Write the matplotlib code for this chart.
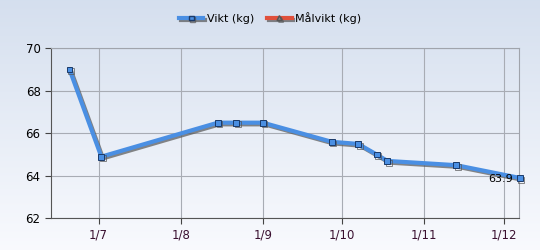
import numpy as np
import matplotlib
matplotlib.use("Agg")
import matplotlib.pyplot as plt
import matplotlib.patheffects as pe
from matplotlib.lines import Line2D
from datetime import datetime

dates = ["2011-06-20", "2011-07-02", "2011-08-15", "2011-08-22", "2011-09-01",
         "2011-09-27", "2011-10-07", "2011-10-14", "2011-10-18", "2011-11-13",
         "2011-12-07"]
vikt = [69.0, 64.9, 66.5, 66.5, 66.5, 65.6, 65.5, 65.0, 64.7, 64.5, 63.9]
tick_dates = ["2011-07-01", "2011-08-01", "2011-09-01", "2011-10-01",
              "2011-11-01", "2011-12-01"]
tick_labels = ["1/7", "1/8", "1/9", "1/10", "1/11", "1/12"]
y_ticks = [62, 64, 66, 68, 70]

x = [datetime.strptime(d, "%Y-%m-%d") for d in dates]
xt = [datetime.strptime(d, "%Y-%m-%d") for d in tick_dates]

fig = plt.figure(figsize=(5.4, 2.5), dpi=100)

# background gradient
bg = fig.add_axes([0, 0, 1, 1], zorder=-10)
grad = np.linspace(0, 1, 256).reshape(-1, 1)
top = np.array([0.835, 0.875, 0.935])
bot = np.array([0.975, 0.98, 0.995])
img = top + (bot - top) * grad[:, :, None]
bg.imshow(img, aspect="auto", extent=[0, 1, 0, 1])
bg.axis("off")

ax = fig.add_axes([51 / 540, 1 - 218.3 / 250, (519.3 - 51) / 540, (218.3 - 48.3) / 250])
ax.set_facecolor("none")

shadow = [pe.SimpleLineShadow(offset=(1.2, -1.2), shadow_color="#555555", alpha=0.7),
          pe.Normal()]
ax.plot(x, vikt, color="#4a8fe3", lw=3, marker="s", ms=4.2,
        mfc="#4a8fe3", mec="#1a3a6a", mew=0.7, path_effects=shadow, zorder=3,
        clip_on=False)
ax.annotate(f"{vikt[-1]:.1f}", (x[-1], vikt[-1]), xytext=(-5, -1),
            textcoords="offset points", ha="right", va="center", fontsize=8,
            color="black")

ax.set_ylim(62, 70)
ax.set_xlim(datetime(2011, 6, 13), datetime(2011, 12, 6, 20))
ax.set_yticks(y_ticks)
ax.set_xticks(xt)
ax.set_xticklabels(tick_labels, color="#3a1030")
ax.tick_params(axis="both", labelsize=8.5, length=4, color="#444444")
ax.grid(True, color="#a8acb4", lw=0.8)
for s in ax.spines.values():
    s.set_color("#a0a4ac")
ax.spines["left"].set_color("#555555")
ax.spines["bottom"].set_color("#555555")

h1 = Line2D([], [], color="#4a8fe3", lw=3, marker="s", ms=3.5, mfc="#4a8fe3",
            mec="#1a3a6a", path_effects=shadow)
h2 = Line2D([], [], color="#e0503c", lw=3, marker="^", ms=3.5, mfc="#888888",
            mec="#555555", path_effects=shadow)
fig.legend([h1, h2], ["Vikt (kg)", "Målvikt (kg)"], loc="center",
           bbox_to_anchor=(0.5, 1 - 18 / 250), ncol=2, frameon=False,
           fontsize=8, handlelength=2.2, handletextpad=0.3, columnspacing=1.2)

fig.savefig("out.png", dpi=100)
